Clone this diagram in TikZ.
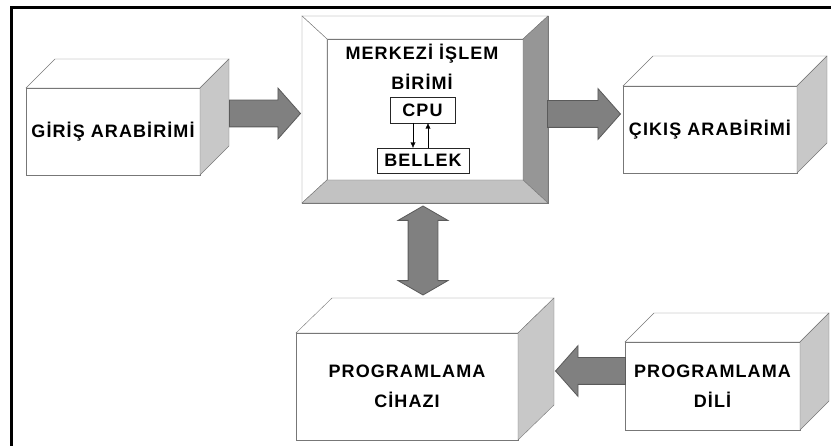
\documentclass[tikz,border=0pt]{standalone}
\usepackage{fontspec}
\newfontfamily\boxfont{Liberation Sans}[LetterSpace=6]
\usepackage{tikz}
\usetikzlibrary{shapes.arrows, positioning}
\usetikzlibrary{arrows.meta}
\tikzset{>={Latex[width=1.8mm,length=2mm]}}
\definecolor{edgegray}{HTML}{777777}
\definecolor{sidegray}{HTML}{C8C8C8}
\definecolor{rightgray}{HTML}{969696}
\definecolor{bottomgray}{HTML}{C2C2C2}
\definecolor{arrowgray}{HTML}{808080}
\definecolor{arrowedge}{HTML}{5A5A5A}

\begin{document}
\begin{tikzpicture}[x=1pt, y=-1pt, front/.style={rectangle, draw=edgegray, fill=white, inner sep=0pt, outer sep=0pt, align=center, font=\boxfont\bfseries\fontsize{18pt}{30pt}\selectfont}, smallbox/.style={rectangle, draw=black!85, fill=white, inner sep=0pt, outer sep=0pt, font=\boxfont\bfseries\fontsize{18pt}{30pt}\selectfont}, emptynode/.style={draw=none, fill=none, align=center, font=\boxfont\bfseries\fontsize{18pt}{30pt}\selectfont}, topface/.style={draw=edgegray, fill=white}, sideface/.style={draw=edgegray, fill=sidegray}, blockarrow/.style={single arrow, draw=arrowedge, fill=arrowgray, line width=0.8pt, inner xsep=0pt, inner ysep=13pt, single arrow head extend=12pt, single arrow tip angle=97}, twoarrow/.style={double arrow, draw=arrowedge, fill=arrowgray, line width=0.8pt, inner xsep=0pt, inner ysep=14.5pt, double arrow head extend=10pt, double arrow tip angle=120}]
    \useasboundingbox (0,0) rectangle (831,446);
    \draw[line width=3pt] (11,446) -- (11,8) -- (831,8);

    %Nodes
    \node[front, minimum width=174pt, minimum height=87pt](giris) at (113,131.5){GİRİŞ ARABİRİMİ};
    \node[front, minimum width=246pt, minimum height=187pt](cpuframe) at (425,109.5){};
    \node[front, minimum width=196pt, minimum height=141pt](islem) at (425,109.5){};
    \node[front, minimum width=174pt, minimum height=87pt](cikis) at (710,129.5){ÇIKIŞ ARABİRİMİ};
    \node[front, minimum width=222pt, minimum height=107pt](cihaz) at (407,386.5){PROGRAMLAMA\\CİHAZI};
    \node[front, minimum width=175pt, minimum height=88pt](dil) at (712.5,386){PROGRAMLAMA\\DİLİ};

    %Faces
    \draw[topface] (giris.north west) -- ++(29,-29) -- ([shift={(29,-29)}]giris.north east) -- (giris.north east) -- cycle;
    \draw[sideface] (giris.north east) -- ([shift={(29,-29)}]giris.north east) -- ([shift={(29,-29)}]giris.south east) -- (giris.south east) -- cycle;
    \draw[topface] (cikis.north west) -- ++(30,-30) -- ([shift={(30,-30)}]cikis.north east) -- (cikis.north east) -- cycle;
    \draw[sideface] (cikis.north east) -- ([shift={(30,-30)}]cikis.north east) -- ([shift={(30,-30)}]cikis.south east) -- (cikis.south east) -- cycle;
    \draw[topface] (cihaz.north west) -- ++(36,-35) -- ([shift={(36,-35)}]cihaz.north east) -- (cihaz.north east) -- cycle;
    \draw[sideface] (cihaz.north east) -- ([shift={(36,-35)}]cihaz.north east) -- ([shift={(36,-35)}]cihaz.south east) -- (cihaz.south east) -- cycle;
    \draw[topface] (dil.north west) -- ++(29,-29) -- ([shift={(29,-29)}]dil.north east) -- (dil.north east) -- cycle;
    \draw[sideface] (dil.north east) -- ([shift={(29,-29)}]dil.north east) -- ([shift={(29,-29)}]dil.south east) -- (dil.south east) -- cycle;
    \draw[topface] (cpuframe.north west) -- (cpuframe.north east) -- (islem.north east) -- (islem.north west) -- cycle;
    \draw[topface] (cpuframe.north west) -- (islem.north west) -- (islem.south west) -- (cpuframe.south west) -- cycle;
    \draw[draw=edgegray, fill=rightgray] (cpuframe.north east) -- (cpuframe.south east) -- (islem.south east) -- (islem.north east) -- cycle;
    \draw[draw=edgegray, fill=bottomgray] (cpuframe.south west) -- (cpuframe.south east) -- (islem.south east) -- (islem.south west) -- cycle;

    \node[emptynode](title) at (422,67){MERKEZİ İŞLEM\\BİRİMİ};
    \node[smallbox, minimum width=65pt, minimum height=26pt](cpu) at (422.5,110){CPU};
    \node[smallbox, minimum width=92pt, minimum height=25pt](bellek) at (423,160.5){BELLEK};

    %Arrows
    \node[blockarrow, minimum height=71pt, anchor=tip](giris_arrow) at (301,113.5){};
    \node[blockarrow, minimum height=73pt, anchor=tip](cikis_arrow) at (621,114){};
    \node[blockarrow, minimum height=70pt, shape border rotate=180, anchor=tip](dil_arrow) at (555,371){};
    \node[twoarrow, minimum height=89pt, rotate=90](bus_arrow) at (423,250.5){};

    %Lines
    \draw[->] ([xshift=-9.5pt]cpu.south) -- ([xshift=-9.5pt]cpu.south |- bellek.north);
    \draw[->] ([xshift=5.5pt]cpu.south |- bellek.north) -- ([xshift=5.5pt]cpu.south);

\end{tikzpicture}
\end{document}
